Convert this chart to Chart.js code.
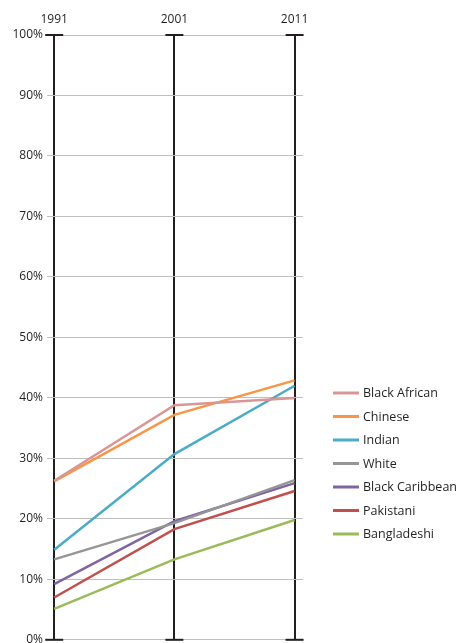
<!DOCTYPE html>
<html>
<head>
<meta charset="utf-8">
<script src="https://cdn.jsdelivr.net/npm/chart.js@4/dist/chart.umd.min.js"></script>
<style>
  html, body { margin: 0; padding: 0; background: #fff; overflow: hidden; }
  #wrap { position: relative; width: 456px; height: 651px; }
</style>
</head>
<body>
<div id="wrap"><canvas id="chart"></canvas></div>
<script>
// Census years shown as the three vertical axes
const years = [1991, 2001, 2011];

// Share of each ethnic group (%) in each census year
const blackAfrican   = [26.3, 38.8, 40.0];
const chinese        = [26.2, 37.2, 42.9];
const indian         = [14.9, 30.7, 42.0];
const white          = [13.3, 19.3, 26.4];
const blackCaribbean = [9.2, 19.6, 25.9];
const pakistani      = [7.0, 18.3, 24.6];
const bangladeshi    = [5.1, 13.3, 19.8];

const groupNames = ['Black African', 'Chinese', 'Indian', 'White', 'Black Caribbean', 'Pakistani', 'Bangladeshi'];
const groupValues = [blackAfrican, chinese, indian, white, blackCaribbean, pakistani, bangladeshi];
const groupColors = ['#d99694', '#f79646', '#4bacc6', '#969696', '#8064a2', '#c0504d', '#9bbb59'];

// Percentage axis ticks
const yTicks = [0, 10, 20, 30, 40, 50, 60, 70, 80, 90, 100];

const FONT = '"Open Sans", "Noto Sans", sans-serif';

const datasets = groupNames.map((name, i) => ({
  label: name,
  data: years.map((yr, j) => ({ x: yr, y: groupValues[i][j] })),
  borderColor: groupColors[i],
  backgroundColor: groupColors[i],
  borderWidth: 2.5,
  pointRadius: 0,
  tension: 0,
  fill: false
}));

// T-shaped caps at both ends of each year axis
const axisCaps = {
  id: 'axisCaps',
  afterDatasetsDraw(chart) {
    const { ctx, chartArea, scales } = chart;
    ctx.save();
    ctx.strokeStyle = '#231f20';
    ctx.lineWidth = 2;
    years.forEach(yr => {
      const px = scales.x.getPixelForValue(yr);
      [chartArea.top, chartArea.bottom].forEach(py => {
        ctx.beginPath();
        ctx.moveTo(px - 9, py);
        ctx.lineTo(px + 9, py);
        ctx.stroke();
      });
    });
    ctx.restore();
  }
};

// Vertical list legend to the right of the plot
const sideLegend = {
  id: 'sideLegend',
  afterDraw(chart) {
    const { ctx, chartArea } = chart;
    const x0 = chartArea.right + 30;
    const yStart = 393;
    const step = 23.5;
    ctx.save();
    ctx.font = '12.5px ' + FONT;
    ctx.textBaseline = 'middle';
    ctx.textAlign = 'left';
    groupNames.forEach((name, i) => {
      const y = yStart + i * step;
      ctx.strokeStyle = groupColors[i];
      ctx.lineWidth = 3;
      ctx.beginPath();
      ctx.moveTo(x0, y);
      ctx.lineTo(x0 + 26, y);
      ctx.stroke();
      ctx.fillStyle = '#231f20';
      ctx.fillText(name, x0 + 30, y + 0.5);
    });
    ctx.restore();
  }
};

new Chart(document.getElementById('chart'), {
  type: 'line',
  data: { datasets },
  options: {
    responsive: true,
    maintainAspectRatio: false,
    animation: false,
    layout: { padding: { top: 0, left: 0, right: 153, bottom: 11 } },
    plugins: { legend: { display: false }, tooltip: { enabled: false } },
    scales: {
      x: {
        type: 'linear',
        position: 'top',
        min: 1990.4,
        max: 2011.7,
        afterBuildTicks(scale) { scale.ticks = years.map(v => ({ value: v })); },
        afterFit(scale) { scale.height = 35; },
        ticks: {
          callback: v => String(v),
          color: '#231f20',
          font: { family: FONT, size: 12 },
          padding: 8,
          maxRotation: 0,
          autoSkip: false
        },
        grid: { color: '#231f20', lineWidth: 2, drawTicks: false },
        border: { display: false }
      },
      y: {
        min: 0,
        max: 100,
        afterBuildTicks(scale) { scale.ticks = yTicks.map(v => ({ value: v })); },
        afterFit(scale) { scale.width = 47; },
        ticks: {
          callback: v => v + '%',
          color: '#231f20',
          font: { family: FONT, size: 12 },
          padding: 4
        },
        grid: { color: '#bfbfbf', lineWidth: 1, drawTicks: false },
        border: { display: false }
      }
    }
  },
  plugins: [axisCaps, sideLegend]
});
</script>
</body>
</html>
